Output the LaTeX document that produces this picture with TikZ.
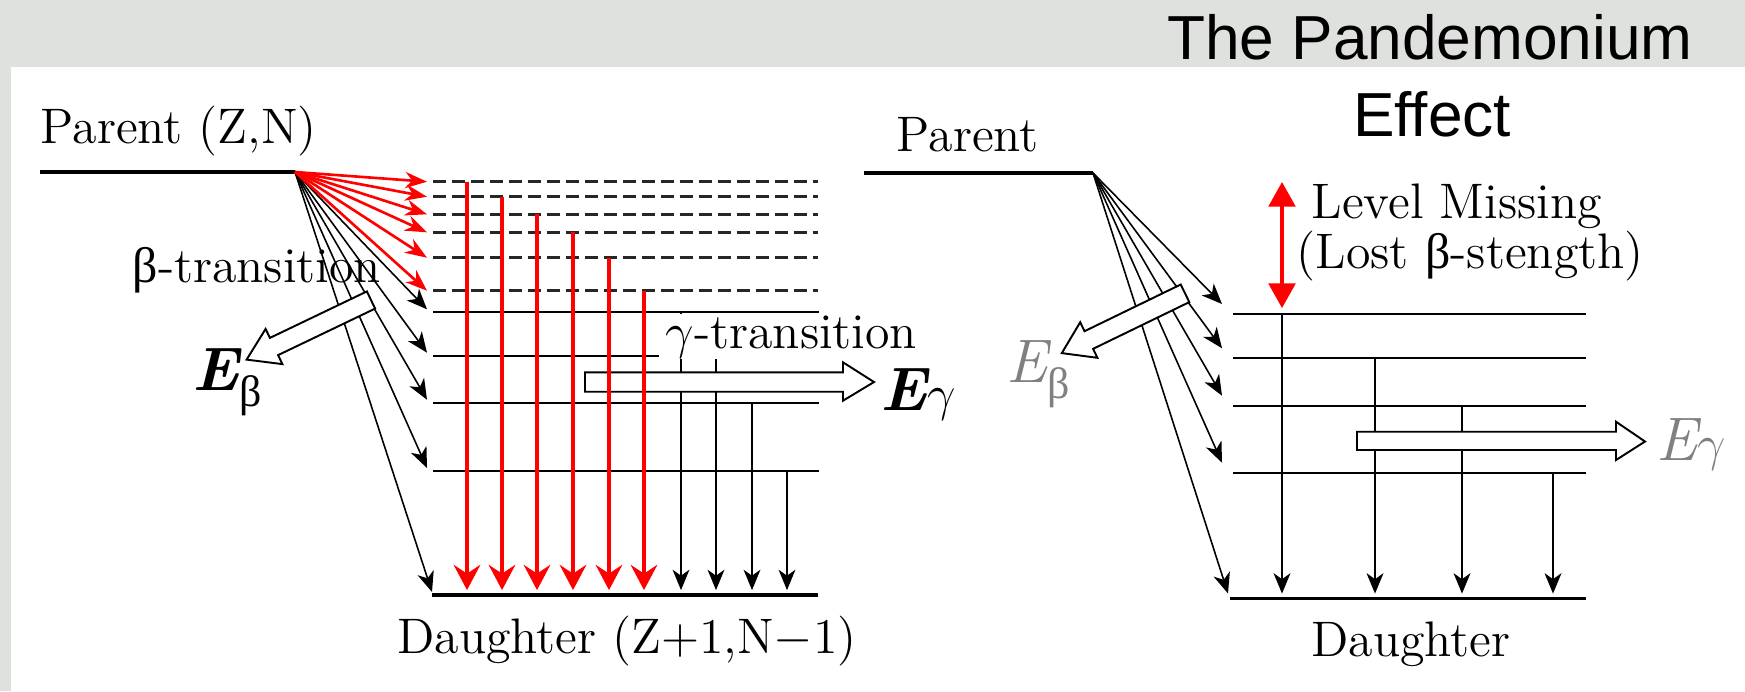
\documentclass[tikz,border=0pt]{standalone}
\usepackage{fontspec}
\usepackage{tikz}
\usetikzlibrary{arrows.meta, calc}
\newfontfamily\grk{Liberation Serif}
\newfontfamily\ttlfont{Liberation Sans}
\definecolor{bggrey}{RGB}{223,225,222}
\definecolor{egrey}{RGB}{128,128,128}
\newcommand\gsub[1]{\raisebox{-4.6pt}{\grk\upshape\mdseries\fontsize{12.5}{13}\selectfont #1}}
\newcommand\gbig{{\fontsize{15}{16}\selectfont$\gamma$}}

\begin{document}
\begin{tikzpicture}[x=0.1mm, y=-0.1mm,
  lvl/.style={line width=0.6pt},
  dlvl/.style={line width=0.75pt, black!85, dash pattern=on 3.7pt off 1.7pt},
  gnd/.style={line width=1.1pt},
  fanb/.style={line width=0.45pt, -{Stealth[length=5.8pt, width=4.8pt, inset=1.7pt]}},
  fanr/.style={line width=0.75pt, red, -{Stealth[length=6.2pt, width=4.6pt, inset=2pt]}},
  gamb/.style={line width=0.45pt, shorten >=1.4pt, -{Stealth[length=5.8pt, width=4.8pt, inset=1.7pt]}},
  gamr/.style={line width=0.9pt, red, shorten >=1.4pt, -{Stealth[length=7.2pt, width=7.6pt, inset=2.5pt]}},
  hollow/.style={line width=0.55pt, fill=white},
  lbl/.style={font=\fontsize{14.2}{16}\selectfont, inner sep=0pt},
  ebig/.style={font=\fontsize{17.5}{19}\selectfont\itshape, inner sep=0pt},
  ttl/.style={font=\ttlfont\fontsize{17.7}{20}\selectfont, inner sep=0pt}]
\useasboundingbox (0,0) rectangle (1745,691);
\fill[bggrey] (0,0) rectangle (1745,691);
\fill[white] (11,67) rectangle (1745,691);

\coordinate (P) at (295,172);
\draw[gnd] (40,172) -- (P);
\foreach \y [count=\i] in {181.7,196.7,214.3,232.3,257.7,290.7}
  \draw[dlvl] (433,\y) coordinate (d\i) -- (818,\y);
\foreach \y [count=\i] in {312.3,355.7,402.7,471}
  \draw[lvl] (433,\y) coordinate (s\i) -- (819,\y);
\draw[gnd] (432,595) coordinate (G) -- (818,595);

\foreach \i in {1,...,4}
  \draw[fanb] (P) -- ($(s\i)+(-6,-3)$);
\draw[fanb] (P) -- ($(G)+(0,-3)$);
\foreach \x/\i in {681/1,716/2,752/3,787/4}
  \draw[gamb] (\x,0 |- s\i) -- (\x,0 |- G);

\draw[hollow] (366.9,291.4) -- (269.9,337.9) -- (265.6,328.9) -- (246.6,359.6) -- (282.4,364.1) -- (278.1,355.1) -- (375.1,308.6) -- cycle;
\draw[hollow] (585,372.3) -- (843,372.3) -- (843,362.3) -- (874,382) -- (843,400.7) -- (843,391.7) -- (585,391.7) -- cycle;

\foreach \i in {1,...,6}
  \draw[fanr] (P) -- ($(d\i)+(-6,0)$);
\foreach \x/\i in {467/1,502/2,537/3,573/4,609/5,644/6}
  \draw[gamr] (\x,0 |- d\i) -- (\x,0 |- G);

\node[lbl, anchor=base west] (par1) at (40,143) {Parent (Z,N)};
\node[lbl, anchor=base west] (btr) at (132,282) {{\grk β}-transition};
\node[ebig, anchor=base west] (eb1) at (192,390) {\bfseries E\gsub{β}};
\node[lbl, anchor=base west, fill=white, inner xsep=2pt, inner ysep=0.3pt] (gtr) at (658,348) {$\gamma$-transition};
\node[ebig, anchor=base west] (eg1) at (880,410) {\bfseries E\gbig};
\node[lbl, anchor=base] (dau1) at (627,653) {Daughter (Z+1,N$-$1)};

\coordinate (Q) at (1093,173);
\draw[gnd] (864,173) -- (Q);
\foreach \y [count=\i] in {314,358.3,405.7,472.7}
  \draw[lvl] (1233,\y) coordinate (r\i) -- (1586,\y);
\draw[gnd] (1230,598.5) coordinate (G2) -- (1586,598.5);

\foreach \i in {1,...,4}
  \draw[fanb] (Q) -- ($(r\i)+(-11,-10)$);
\draw[fanb] (Q) -- ($(G2)+(-2,-5)$);
\foreach \x/\i in {1282/1,1375/2,1462/3,1553/4}
  \draw[gamb] (\x,0 |- r\i) -- (\x,0 |- G2);

\draw[hollow] (1180.7,284.5) -- (1084.5,331.2) -- (1080.2,322.2) -- (1061.8,353.1) -- (1097.4,357.8) -- (1093.1,348.8) -- (1189.3,302.1) -- cycle;
\draw[hollow] (1357,431.7) -- (1616,431.7) -- (1616,421.7) -- (1645,441.5) -- (1616,460) -- (1616,450) -- (1357,450) -- cycle;

\coordinate (miss) at (1282,182);
\draw[line width=0.9pt, red, shorten >=1.7pt, {Triangle[length=7pt, width=7.6pt]}-{Triangle[length=7pt, width=7.6pt]}] (miss) -- (miss |- r1);

\node[lbl, anchor=base west] (par2) at (896,151) {Parent};
\node[lbl, anchor=base west] (lm1) at (1311,218) {Level Missing};
\node[lbl, anchor=base west] (lm2) at (1296,268) {(Lost {\grk β}-stength)};
\node[ebig, anchor=base west, text=egrey] (eb2) at (1006,382) {E\gsub{β}};
\node[ebig, anchor=base west, text=egrey] (eg2) at (1656,460) {E\gbig};
\node[lbl, anchor=base] (dau2) at (1411,656) {Daughter};

\node[ttl, anchor=base] (ttl1) at (1430,59) {The Pandemonium};
\node[ttl, anchor=base] (ttl2) at (1432,136) {Effect};
\end{tikzpicture}
\end{document}
